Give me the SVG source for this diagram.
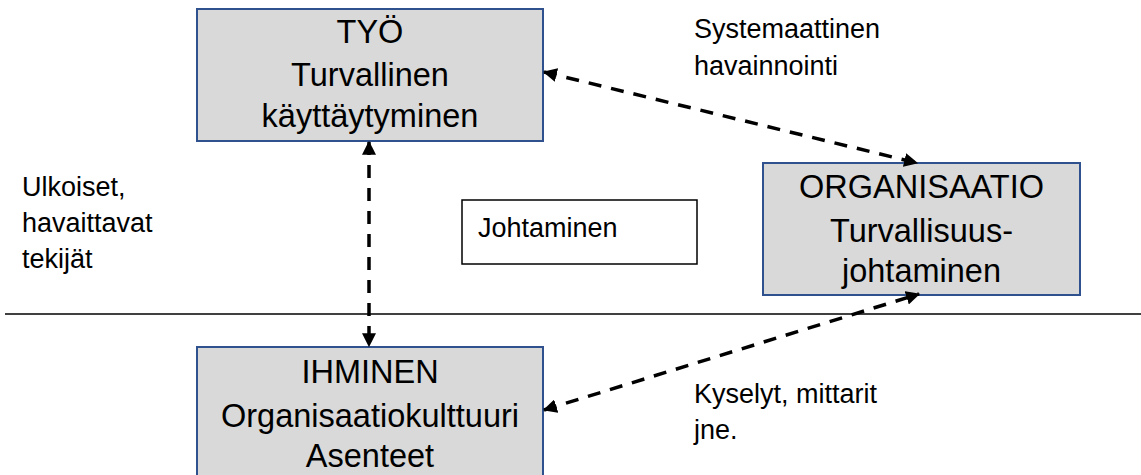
<svg xmlns="http://www.w3.org/2000/svg" width="1141" height="475" viewBox="0 0 1141 475">
  <style>
    .box { fill: #D9D9D9; stroke: #2F528F; stroke-width: 2; }
    .plain { fill: #FFFFFF; stroke: #000000; stroke-width: 1.5; }
    .big { font-family: "Liberation Sans", Arial, sans-serif; font-size: 32.5px; fill: #000; text-anchor: middle; }
    .small { font-family: "Liberation Sans", Arial, sans-serif; font-size: 27px; fill: #000; }
    .link { fill: none; stroke: #000; stroke-width: 3.5; stroke-dasharray: 13 10; marker-start: url(#head); marker-end: url(#head); }
  </style>
  <defs>
    <marker id="head" viewBox="0 0 12 12" refX="11" refY="6" markerWidth="14" markerHeight="14" markerUnits="userSpaceOnUse" orient="auto-start-reverse">
      <path d="M0,0 L12,6 L0,12 Z" fill="#000"/>
    </marker>
  </defs>

  <!-- divider line -->
  <line x1="5" y1="314" x2="1141" y2="314" stroke="#000" stroke-width="1.5"/>

  <!-- free labels -->
  <g id="labels">
    <text class="small" x="22" y="196">Ulkoiset,</text>
    <text class="small" x="22" y="232">havaittavat</text>
    <text class="small" x="22" y="268">tekijät</text>
    <text class="small" x="694" y="38">Systemaattinen</text>
    <text class="small" x="694" y="75">havainnointi</text>
    <text class="small" x="694" y="403">Kyselyt, mittarit</text>
    <text class="small" x="694" y="439">jne.</text>
  </g>

  <g id="tyo">
    <rect class="box" x="197" y="9" width="346" height="132"/>
    <text class="big" x="370" y="43">TYÖ</text>
    <text class="big" x="370" y="86">Turvallinen</text>
    <text class="big" x="370" y="127">käyttäytyminen</text>
  </g>

  <g id="organisaatio">
    <rect class="box" x="763" y="163" width="317" height="132"/>
    <text class="big" x="921.5" y="198">ORGANISAATIO</text>
    <text class="big" x="921.5" y="242">Turvallisuus-</text>
    <text class="big" x="921.5" y="282">johtaminen</text>
  </g>

  <g id="ihminen">
    <rect class="box" x="197" y="347" width="346" height="140"/>
    <text class="big" x="370" y="383">IHMINEN</text>
    <text class="big" x="370" y="427">Organisaatiokulttuuri</text>
    <text class="big" x="370" y="467">Asenteet</text>
  </g>

  <g id="johtaminen">
    <rect class="plain" x="462" y="200" width="235" height="64"/>
    <text class="small" x="478" y="237">Johtaminen</text>
  </g>

  <g id="connectors">
    <line class="link" x1="544" y1="72" x2="917" y2="163"/>
    <line class="link" x1="369" y1="142" x2="369" y2="346"/>
    <line class="link" x1="544" y1="410" x2="919" y2="294"/>
  </g>
</svg>
